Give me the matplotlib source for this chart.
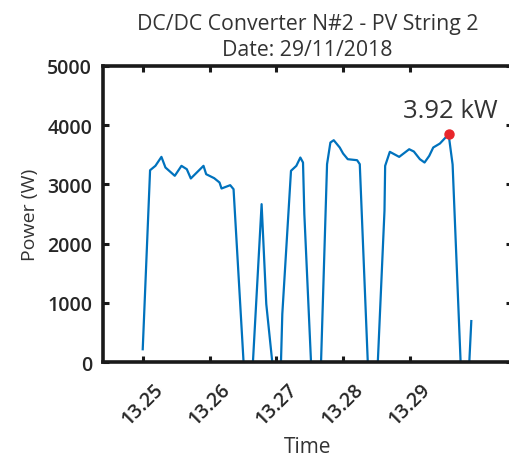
import matplotlib
matplotlib.use("Agg")
from matplotlib import pyplot as plt

# time (hours) and power (W)
hours = [13.2500, 13.2511, 13.2519, 13.2528, 13.2534, 13.2548, 13.2558, 13.2566,
         13.2572, 13.2591, 13.2595, 13.2607, 13.2615, 13.2618, 13.2631, 13.2636,
         13.2651, 13.2665, 13.2678, 13.2685, 13.2694, 13.2707, 13.2709, 13.2722,
         13.2730, 13.2736, 13.2740, 13.2742, 13.2752, 13.2767, 13.2776, 13.2781,
         13.2786, 13.2795, 13.2800, 13.2807, 13.2816, 13.2821, 13.2825, 13.2837,
         13.2852, 13.2862, 13.2863, 13.2870, 13.2884, 13.2899, 13.2906, 13.2915,
         13.2922, 13.2929, 13.2935, 13.2945, 13.2958, 13.2964, 13.2976, 13.2989,
         13.2992]
power = [220, 3238, 3312, 3463, 3284, 3144, 3312, 3255,
         3099, 3312, 3171, 3104, 3031, 2930, 2986, 2918,
         0, 0, 2666, 982, 0, 0, 813, 3228,
         3312, 3452, 3368, 2497, 0, 0, 3340, 3705,
         3744, 3621, 3520, 3424, 3413, 3407, 3340, 0,
         0, 2555, 3312, 3548, 3463, 3592, 3553, 3424,
         3368, 3480, 3621, 3688, 3844, 3335, 0, 0,
         695]

x_ticks = [13.25, 13.26, 13.27, 13.28, 13.29]
x_ticklabels = ["13.25", "13.26", "13.27", "13.28", "13.29"]
y_ticks = [0, 1000, 2000, 3000, 4000, 5000]
peak_label = "3.92 kW"

plt.rcParams['font.family'] = ['Open Sans', 'DejaVu Sans']

fig = plt.figure(figsize=(5.1, 4.6), dpi=100)
ax = fig.add_axes([0.2026, 0.2102, 0.8014, 0.6448])

ax.plot(hours, power, color='#0072BD', lw=1.6)

# peak marker
i_max = power.index(max(power))
ax.plot(hours[i_max], power[i_max], 'o', color='#E8262B', ms=6.5, zorder=5)
ax.annotate(peak_label, (hours[i_max], power[i_max]), xytext=(1, 8),
            textcoords='offset points', ha='center', va='bottom',
            fontsize=18.5, color='#333333')

ax.set_xlim(13.2441, 13.3053)
ax.set_ylim(0, 5000)
ax.set_xticks(x_ticks)
ax.set_xticklabels(x_ticklabels, rotation=45, ha='center', va='top')
ax.set_yticks(y_ticks)

for s in ax.spines.values():
    s.set_linewidth(2.6)
    s.set_color('#1a1a1a')
ax.tick_params(direction='in', top=True, right=True, length=4, width=2.2,
               color='#1a1a1a', labelsize=14, labelcolor='#262626')
ax.tick_params(axis='x', pad=12)
ax.tick_params(axis='y', pad=8)
for lab in ax.get_yticklabels() + ax.get_xticklabels():
    lab.set_fontweight('semibold')

ax.set_title("DC/DC Converter N#2 - PV String 2\nDate: 29/11/2018",
             fontsize=15.3, color='#333333', pad=8, linespacing=1.3)
ax.set_ylabel("Power (W)", fontsize=14, color='#333333', labelpad=6)
ax.set_xlabel("Time", fontsize=15, color='#333333', labelpad=5)

fig.savefig("out.png", dpi=100)
